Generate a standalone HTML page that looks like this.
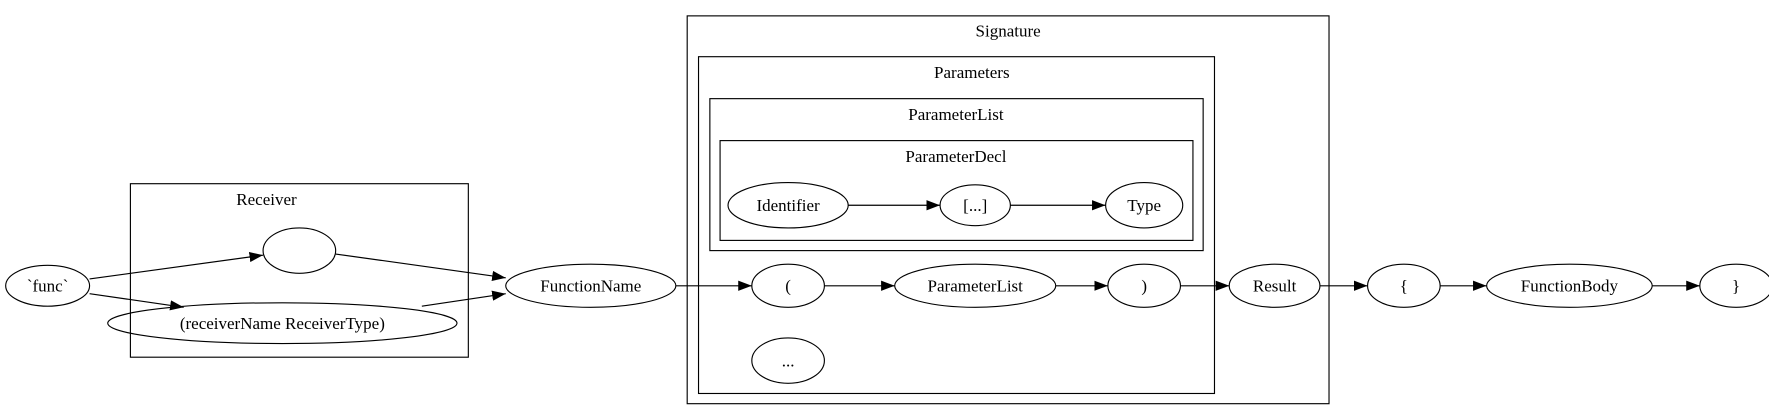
<!DOCTYPE html>
<html><head><meta charset="utf-8"><style>html,body{margin:0;padding:0;background:#fff;}svg{display:block}</style></head>
<body>
<svg width="1769" height="419" viewBox="0 0 1560 369.5" preserveAspectRatio="none" xmlns="http://www.w3.org/2000/svg" font-family="'Liberation Serif', serif" font-size="15" text-anchor="middle">
<defs><marker id="a" markerWidth="12" markerHeight="9" refX="12" refY="4.5" orient="auto" markerUnits="userSpaceOnUse"><path d="M0,0L12,4.5L0,9z" fill="#000"/></marker></defs>
<g fill="none" stroke="#000" stroke-width="1">
<rect x="115" y="162" width="298" height="153"/>
<rect x="606" y="14" width="566" height="342"/>
<rect x="616" y="50" width="455" height="297"/>
<rect x="626" y="87" width="435" height="134"/>
<rect x="635" y="124" width="417" height="88"/>
<ellipse cx="42" cy="252" rx="37" ry="18"/>
<ellipse cx="264" cy="221" rx="32" ry="20"/>
<ellipse cx="249" cy="285" rx="154" ry="18"/>
<ellipse cx="521" cy="252" rx="75" ry="19"/>
<ellipse cx="695" cy="181" rx="53" ry="20"/>
<ellipse cx="860" cy="181" rx="31" ry="18"/>
<ellipse cx="1009" cy="181" rx="34" ry="20"/>
<ellipse cx="695" cy="252" rx="32" ry="19"/>
<ellipse cx="860" cy="252" rx="71" ry="19"/>
<ellipse cx="1009" cy="252" rx="32" ry="19"/>
<ellipse cx="695" cy="318" rx="32" ry="20"/>
<ellipse cx="1124" cy="252" rx="40" ry="19"/>
<ellipse cx="1238" cy="252" rx="32" ry="19"/>
<ellipse cx="1384" cy="252" rx="73" ry="19"/>
<ellipse cx="1531" cy="252" rx="32" ry="19"/>
<g marker-end="url(#a)">
<path d="M79,246L232,225"/>
<path d="M79,259L162,271"/>
<path d="M296,224L446,245"/>
<path d="M372,270L446,259"/>
<path d="M596,252L663,252"/>
<path d="M748,181L829,181"/>
<path d="M891,181L975,181"/>
<path d="M727,252L789,252"/>
<path d="M931,252L977,252"/>
<path d="M1041,252L1084,252"/>
<path d="M1164,252L1206,252"/>
<path d="M1270,252L1311,252"/>
<path d="M1457,252L1499,252"/>
</g></g>
<g fill="#000">
<text x="235" y="181">Receiver</text>
<text x="889" y="32">Signature</text>
<text x="857" y="69">Parameters</text>
<text x="843" y="106">ParameterList</text>
<text x="843" y="143">ParameterDecl</text>
<text x="42" y="257">`func`</text>
<text x="249" y="290">(receiverName ReceiverType)</text>
<text x="521" y="257">FunctionName</text>
<text x="695" y="186">Identifier</text>
<text x="860" y="186">[...]</text>
<text x="1009" y="186">Type</text>
<text x="695" y="257">(</text>
<text x="860" y="257">ParameterList</text>
<text x="1009" y="257">)</text>
<text x="695" y="323">...</text>
<text x="1124" y="257">Result</text>
<text x="1238" y="257">{</text>
<text x="1384" y="257">FunctionBody</text>
<text x="1531" y="257">}</text>
</g>
</svg>
</body></html>
